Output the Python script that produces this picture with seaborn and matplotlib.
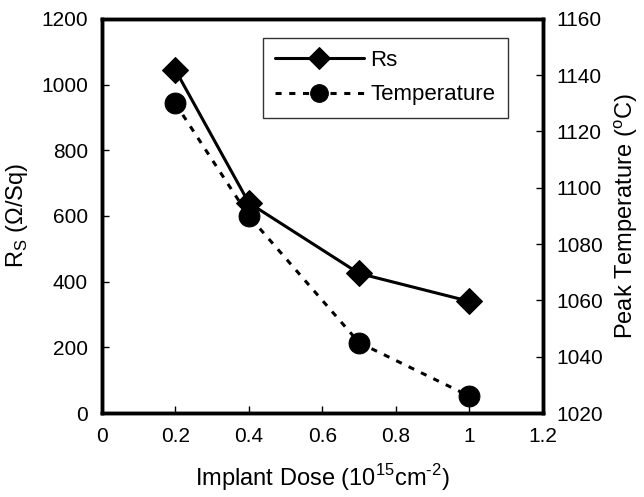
import matplotlib
matplotlib.use("Agg")
import matplotlib.pyplot as plt
import seaborn as sns
import pandas as pd

dose = [0.2, 0.4, 0.7, 1.0]
rs = [1045, 640, 425, 340]
temperature = [1130, 1090, 1045, 1026]

sns.set_style("ticks")
plt.rcParams['font.family'] = ['Liberation Sans', 'DejaVu Sans']
plt.rcParams['text.color'] = 'black'
plt.rcParams['axes.labelcolor'] = 'black'
plt.rcParams['mathtext.fontset'] = 'custom'
plt.rcParams['mathtext.rm'] = 'Liberation Sans'

fig = plt.figure(figsize=(6.44, 4.97), dpi=100)
ax = fig.add_axes([0.158, 0.169, 0.685, 0.793])
ax2 = ax.twinx()

df1 = pd.DataFrame({"dose": dose, "rs": rs})
df2 = pd.DataFrame({"dose": dose, "temp": temperature})

sns.lineplot(data=df1, x="dose", y="rs", ax=ax, color="black", lw=2.2,
             marker="D", markersize=13, markeredgecolor="black", label="Rs", legend=False)
sns.lineplot(data=df2, x="dose", y="temp", ax=ax2, color="black", lw=2.2,
             marker="o", markersize=15, markeredgecolor="black", linestyle=(0, (2.0, 2.5)),
             label="Temperature", legend=False)

ax.set_xlim(0, 1.2)
ax.set_ylim(0, 1200)
ax2.set_ylim(1020, 1160)
ax.set_xticks([0, 0.2, 0.4, 0.6, 0.8, 1.0, 1.2])
ax.set_xticklabels(["0", "0.2", "0.4", "0.6", "0.8", "1", "1.2"])
ax.set_yticks(range(0, 1201, 200))
ax2.set_yticks(range(1020, 1161, 20))

for a in (ax, ax2):
    for s in a.spines.values():
        s.set_visible(True)
        s.set_linewidth(2.5)
        s.set_color("black")
ax.tick_params(axis="both", direction="in", length=5, width=1, labelsize=15, pad=10, colors="black")
ax2.tick_params(axis="y", direction="in", length=5, width=1, labelsize=15, pad=10, colors="black")

ax.set_xlabel("Implant Dose (10$^{15}$cm$^{\\text{-}2}$)", fontsize=17, labelpad=12)
ax.set_ylabel("R$_{\\mathrm{S}}$ ($\\Omega$/Sq)", fontsize=17, labelpad=8)
ax2.set_ylabel("Peak Temperature ($^{\\mathrm{o}}$C)", fontsize=17, labelpad=6)

h1, l1 = ax.get_legend_handles_labels()
h2, l2 = ax2.get_legend_handles_labels()
leg = ax2.legend(h1 + h2, l1 + l2, loc="upper left", bbox_to_anchor=(0.365, 0.952),
                 borderaxespad=0, fontsize=16, frameon=True, fancybox=False, edgecolor="black",
                 handlelength=4.0, handletextpad=0.3, borderpad=0.55, labelspacing=0.6,
                 markerscale=0.85)
leg.get_frame().set_linewidth(1.0)

fig.savefig("out.png", dpi=100)
